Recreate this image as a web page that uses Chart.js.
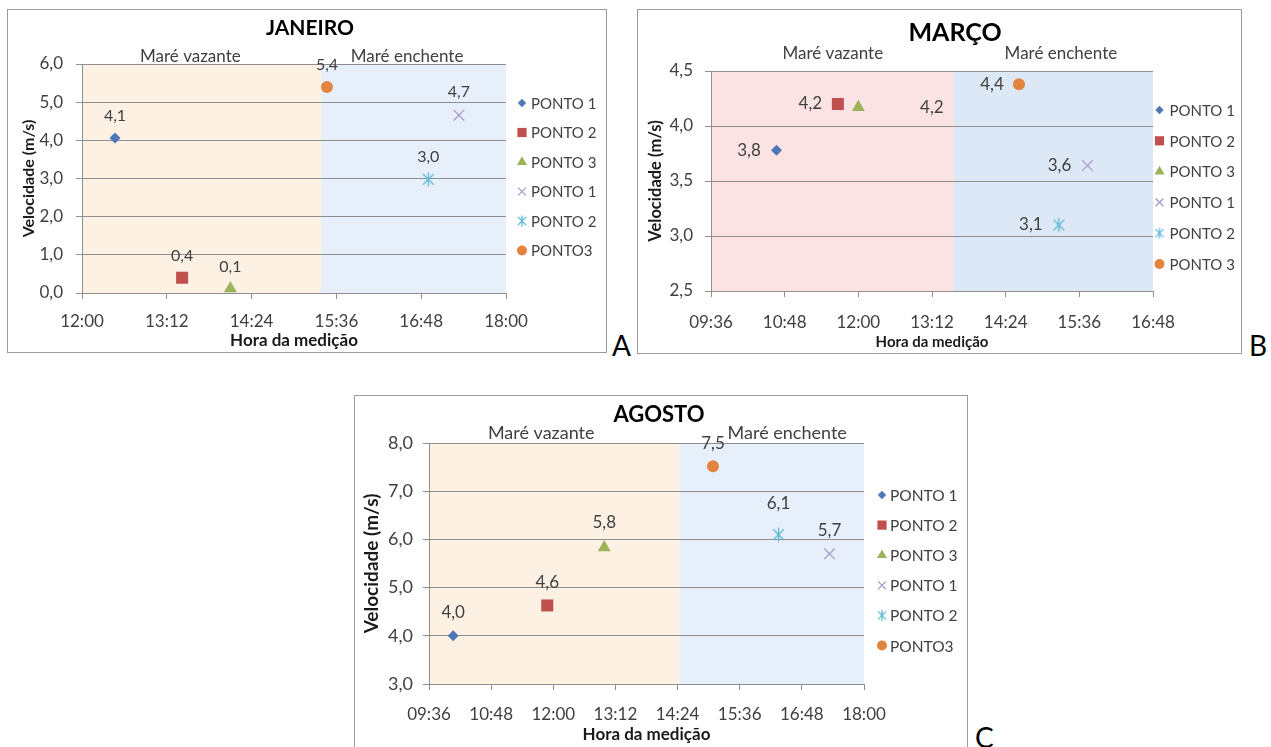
<!DOCTYPE html>
<html>
<head>
<meta charset="utf-8">
<script src="https://cdn.jsdelivr.net/npm/chart.js@4.4.1/dist/chart.umd.min.js"></script>
<style>
  body { margin: 0; width: 1271px; height: 747px; position: relative; overflow: hidden; background: #fff; }
  .quadro { position: absolute; border: 1px solid #9c9c9c; background: #fff; }
  .quadro canvas { display: block; }
  .letra { position: absolute; font: 28px Lato, "Open Sans", sans-serif; color: #000; line-height: 1; }
</style>
</head>
<body>
<div class="quadro" style="left:7px;top:9px;width:598px;height:342px"><canvas id="janeiro" width="598" height="342"></canvas></div>
<div class="quadro" style="left:637px;top:9px;width:603px;height:343px"><canvas id="marco" width="603" height="343"></canvas></div>
<div class="quadro" style="left:354px;top:395px;width:612px;height:360px"><canvas id="agosto" width="612" height="360"></canvas></div>
<div class="letra" style="left:612px;top:331px">A</div>
<div class="letra" style="left:1249px;top:331px">B</div>
<div class="letra" style="left:975px;top:723px">C</div>

<script>
// velocidades (hora da medição, m/s)
const nomes = ["PONTO 1", "PONTO 2", "PONTO 3", "PONTO 1", "PONTO 2", "PONTO3"];
const nomesMarco = ["PONTO 1", "PONTO 2", "PONTO 3", "PONTO 1", "PONTO 2", "PONTO 3"];

const janeiroHoras = ["12:28", "13:25", "14:06", "17:20", "16:54", "15:28"];
const janeiroVel = [4.06, 0.40, 0.12, 4.66, 2.98, 5.40];
const janeiroXTicks = ["12:00", "13:12", "14:24", "15:36", "16:48", "18:00"];
const janeiroYTicks = [0, 1, 2, 3, 4, 5, 6];
const janeiroMare = "15:23";

const marcoHoras = ["10:40", "11:40", "12:00", "15:44", "15:16", "14:37"];
const marcoVel = [3.78, 4.20, 4.17, 3.64, 3.10, 4.38];
const marcoXTicks = ["09:36", "10:48", "12:00", "13:12", "14:24", "15:36", "16:48"];
const marcoYTicks = [2.5, 3.0, 3.5, 4.0, 4.5];
const marcoMare = "13:33";

const agostoHoras = ["10:04", "11:53", "12:59", "17:20", "16:21", "15:05"];
const agostoVel = [4.00, 4.63, 5.83, 5.70, 6.10, 7.52];
const agostoXTicks = ["09:36", "10:48", "12:00", "13:12", "14:24", "15:36", "16:48", "18:00"];
const agostoYTicks = [3, 4, 5, 6, 7, 8];
const agostoMare = "14:26";

const FONTE = 'Lato, "Open Sans", sans-serif';
const TEXTO = '#404040';
const GRADE = '#8f8f8f';

// marcadores do Excel: losango, quadrado, triângulo, x, asterisco, círculo
const marcadores = [
  { estilo: 'rectRot', cor: '#4F77B5', r: 5.5, rl: 4.2 },
  { estilo: 'rect', cor: '#C0504D', r: 8.5, rl: 6.5 },
  { estilo: 'triangle', cor: '#9BB45A', r: 7.5, rl: 5.8 },
  { estilo: 'crossRot', cor: '#A99ACB', r: 7.5, rl: 5.5, linha: 1.3 },
  { estilo: 'asterisco', cor: '#5CB8D2', r: 7, rl: 5.5, linha: 1.3 },
  { estilo: 'circle', cor: '#E2843D', r: 6, rl: 5 },
];

function toMin(h) {
  const [hh, mm] = h.split(':').map(Number);
  return hh * 60 + mm;
}
function hhmm(v) {
  const h = Math.floor(v / 60), m = Math.round(v % 60);
  return String(h).padStart(2, '0') + ':' + String(m).padStart(2, '0');
}
function virgula(v) {
  return v.toFixed(1).replace('.', ',');
}

function asterisco(r, cor, lw) {
  const c = document.createElement('canvas');
  const s = Math.ceil(r * 2 + 3);
  c.width = c.height = s;
  const g = c.getContext('2d');
  const m = s / 2, d = r * 0.75;
  g.strokeStyle = cor;
  g.lineWidth = lw;
  g.beginPath();
  g.moveTo(m, m - r); g.lineTo(m, m + r);
  g.moveTo(m - d, m - d); g.lineTo(m + d, m + d);
  g.moveTo(m - d, m + d); g.lineTo(m + d, m - d);
  g.stroke();
  return c;
}

function estiloDe(mk, r) {
  return mk.estilo === 'asterisco' ? asterisco(r, mk.cor, mk.linha) : mk.estilo;
}

function decoracao(cfg) {
  return {
    id: 'decoracao',
    beforeDraw(chart) {
      const { ctx, chartArea: a, scales: { x } } = chart;
      const xm = x.getPixelForValue(toMin(cfg.mare));
      ctx.save();
      ctx.fillStyle = cfg.corVazante;
      ctx.fillRect(a.left, a.top, xm - a.left, a.height);
      ctx.fillStyle = cfg.corEnchente;
      ctx.fillRect(xm, a.top, a.right - xm, a.height);
      ctx.restore();
    },
    afterDatasetsDraw(chart) {
      const { ctx } = chart;
      ctx.save();
      ctx.font = cfg.rotuloFonte + 'px ' + FONTE;
      ctx.fillStyle = TEXTO;
      ctx.textAlign = 'center';
      ctx.textBaseline = 'middle';
      chart.data.datasets.forEach((ds, i) => {
        const p = chart.getDatasetMeta(i).data[0];
        const [dx, dy] = cfg.rotulos[i];
        ctx.fillText(virgula(ds.data[0].y), p.x + dx, p.y + dy);
      });
      ctx.restore();
    },
    afterDraw(chart) {
      const { ctx, scales: { x } } = chart;
      ctx.save();
      ctx.textBaseline = 'middle';
      ctx.textAlign = 'center';
      ctx.fillStyle = '#000';
      ctx.font = 'bold ' + cfg.tituloFonte + 'px ' + FONTE;
      ctx.fillText(cfg.titulo, cfg.tituloX, cfg.tituloY);

      ctx.fillStyle = TEXTO;
      ctx.font = cfg.mareFonte + 'px ' + FONTE;
      ctx.fillText('Maré vazante', x.getPixelForValue(toMin(cfg.mareRotulos[0])), cfg.mareY);
      ctx.fillText('Maré enchente', x.getPixelForValue(toMin(cfg.mareRotulos[1])), cfg.mareY);

      // legenda
      ctx.textAlign = 'left';
      ctx.font = cfg.leg.fonte + 'px ' + FONTE;
      chart.data.datasets.forEach((ds, i) => {
        const mk = marcadores[i];
        const y = cfg.leg.y + i * cfg.leg.passo;
        ctx.fillStyle = mk.cor;
        ctx.strokeStyle = mk.cor;
        ctx.lineWidth = mk.linha || 1;
        Chart.helpers.drawPoint(ctx, {
          pointStyle: estiloDe(mk, mk.rl), radius: mk.rl, rotation: 0, borderWidth: mk.linha || 0
        }, cfg.leg.x, y);
        ctx.fillStyle = TEXTO;
        ctx.fillText(ds.label, cfg.leg.tx, y + 1);
      });
      ctx.restore();
    }
  };
}

function painel(id, cfg) {
  const canvas = document.getElementById(id);
  const datasets = cfg.nomes.map((nome, i) => {
    const mk = marcadores[i];
    return {
      label: nome,
      data: [{ x: toMin(cfg.horas[i]), y: cfg.vel[i] }],
      pointStyle: estiloDe(mk, mk.r),
      pointRadius: mk.r,
      pointBackgroundColor: mk.cor,
      pointBorderColor: mk.cor,
      pointBorderWidth: mk.linha || 0,
    };
  });

  return new Chart(canvas, {
    type: 'scatter',
    data: { datasets: datasets },
    plugins: [decoracao(cfg)],
    options: {
      responsive: false,
      animation: false,
      events: [],
      layout: { padding: { top: cfg.top, right: canvas.width - cfg.right, left: 0, bottom: 0 } },
      plugins: { legend: { display: false }, title: { display: false }, tooltip: { enabled: false } },
      scales: {
        x: {
          type: 'linear',
          min: toMin(cfg.xTicks[0]),
          max: toMin(cfg.xTicks[cfg.xTicks.length - 1]),
          afterBuildTicks: s => { s.ticks = cfg.xTicks.map(t => ({ value: toMin(t) })); },
          afterFit: s => { s.height = canvas.height - cfg.bottom; },
          ticks: {
            callback: v => hhmm(v),
            font: { family: FONTE, size: cfg.tickFonte },
            color: TEXTO, padding: cfg.xTickPad, maxRotation: 0, autoSkip: false
          },
          grid: { drawOnChartArea: false, tickLength: 6, color: GRADE },
          border: { color: GRADE },
          title: {
            display: true, text: 'Hora da medição', color: '#1a1a1a',
            font: { family: FONTE, size: cfg.xTituloFonte, weight: 'bold' },
            padding: { top: 0, bottom: cfg.xTituloPad }
          }
        },
        y: {
          min: cfg.yTicks[0],
          max: cfg.yTicks[cfg.yTicks.length - 1],
          afterBuildTicks: s => { s.ticks = cfg.yTicks.map(v => ({ value: v })); },
          afterFit: s => { s.width = cfg.left; },
          ticks: {
            callback: v => virgula(v),
            font: { family: FONTE, size: cfg.yTickFonte },
            color: TEXTO, padding: cfg.yTickPad
          },
          grid: { color: GRADE, tickLength: 6 },
          border: { color: GRADE },
          title: {
            display: true, text: 'Velocidade (m/s)', color: '#1a1a1a',
            font: { family: FONTE, size: cfg.yTituloFonte, weight: 'bold' },
            padding: { top: cfg.yTituloPad, bottom: 0 }
          }
        }
      }
    }
  });
}

painel('janeiro', {
  nomes: nomes, horas: janeiroHoras, vel: janeiroVel,
  xTicks: janeiroXTicks, yTicks: janeiroYTicks, mare: janeiroMare,
  left: 74, right: 498, top: 54, bottom: 283,
  titulo: 'JANEIRO', tituloFonte: 21, tituloX: 302, tituloY: 18,
  mareRotulos: ['13:32', '16:36'], mareY: 47, mareFonte: 17,
  corVazante: '#FDF1E4', corEnchente: '#E7EFFA',
  tickFonte: 17, xTickPad: 12, yTickFonte: 17, yTickPad: 13,
  xTituloFonte: 17, xTituloPad: 1, yTituloFonte: 16, yTituloPad: 11,
  rotuloFonte: 16, rotulos: [[0, -22], [0, -22], [0, -22], [0, -23], [0, -22], [0, -22]],
  leg: { x: 514, tx: 523, y: 93, passo: 29.5, fonte: 15 }
});

painel('marco', {
  nomes: nomesMarco, horas: marcoHoras, vel: marcoVel,
  xTicks: marcoXTicks, yTicks: marcoYTicks, mare: marcoMare,
  left: 73, right: 515, top: 61, bottom: 281,
  titulo: 'MARÇO', tituloFonte: 25, tituloX: 317, tituloY: 23,
  mareRotulos: ['11:35', '15:18'], mareY: 44, mareFonte: 17,
  corVazante: '#FBE3E3', corEnchente: '#DDE8F6',
  tickFonte: 17, xTickPad: 15, yTickFonte: 17, yTickPad: 12,
  xTituloFonte: 15, xTituloPad: 2, yTituloFonte: 16.5, yTituloPad: 8,
  rotuloFonte: 17, rotulos: [[-27.5, 0], [-27.5, 0], [73.5, 0], [-28, 0], [-28, 0], [-27, 0]],
  leg: { x: 521.5, tx: 531.5, y: 100, passo: 30.8, fonte: 15 }
});

painel('agosto', {
  nomes: nomes, horas: agostoHoras, vel: agostoVel,
  xTicks: agostoXTicks, yTicks: agostoYTicks, mare: agostoMare,
  left: 74, right: 509, top: 47, bottom: 288,
  titulo: 'AGOSTO', tituloFonte: 22, tituloX: 304, tituloY: 18.5,
  mareRotulos: ['11:46', '16:31'], mareY: 37, mareFonte: 18,
  corVazante: '#FDF1E4', corEnchente: '#E7EFFA',
  tickFonte: 17, xTickPad: 14.5, yTickFonte: 18, yTickPad: 10,
  xTituloFonte: 17, xTituloPad: 11, yTituloFonte: 19, yTituloPad: 5.5,
  rotuloFonte: 17, rotulos: [[0, -23], [0, -23], [0, -25], [0, -23], [0, -31], [0, -23]],
  leg: { x: 527, tx: 535, y: 99, passo: 30.1, fonte: 15.5 }
});
</script>
</body>
</html>
